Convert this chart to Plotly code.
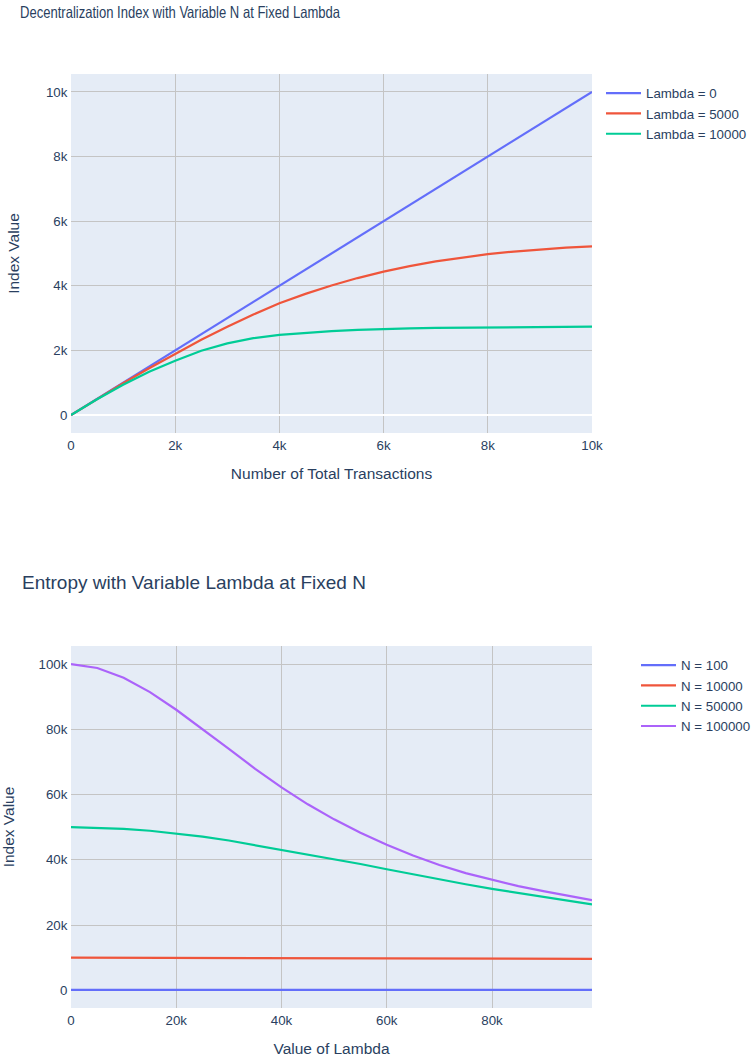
import plotly.graph_objects as go

# ---- Data: top chart (Decentralization Index vs N) ----
n_values = [0, 500, 1000, 1500, 2000, 2500, 3000, 3500, 4000, 4500, 5000,
            5500, 6000, 6500, 7000, 7500, 8000, 8500, 9000, 9500, 10000]
idx_lambda_0 = [0, 500, 1000, 1500, 2000, 2500, 3000, 3500, 4000, 4500, 5000,
                5500, 6000, 6500, 7000, 7500, 8000, 8500, 9000, 9500, 10000]
idx_lambda_5000 = [0, 495, 985, 1450, 1900, 2330, 2730, 3110, 3460, 3750, 4010,
                   4240, 4440, 4610, 4755, 4875, 4980, 5060, 5125, 5180, 5220]
idx_lambda_10000 = [0, 490, 940, 1340, 1680, 1990, 2220, 2380, 2480, 2550, 2600,
                    2635, 2665, 2685, 2698, 2707, 2714, 2720, 2725, 2730, 2735]
top_names = ["Lambda = 0", "Lambda = 5000", "Lambda = 10000"]

# ---- Data: bottom chart (Entropy vs Lambda) ----
lambda_values = [0, 5000, 10000, 15000, 20000, 25000, 30000, 35000, 40000, 45000,
                 50000, 55000, 60000, 65000, 70000, 75000, 80000, 85000, 90000,
                 95000, 99000]
ent_n_100 = [100, 100, 100, 100, 100, 100, 100, 100, 100, 100,
             100, 100, 100, 100, 100, 100, 100, 100, 100, 100, 100]
ent_n_10000 = [10000, 9990, 9970, 9950, 9930, 9910, 9890, 9870, 9850, 9830,
               9810, 9790, 9770, 9750, 9730, 9720, 9700, 9680, 9660, 9640, 9630]
ent_n_50000 = [50000, 49850, 49500, 48900, 48100, 47100, 45900, 44500, 43100, 41600,
               40200, 38700, 37100, 35500, 34000, 32500, 31100, 29800, 28500, 27300, 26300]
ent_n_100000 = [100000, 98800, 95800, 91400, 86000, 80100, 74000, 67900, 62200, 57000,
                52400, 48300, 44600, 41300, 38400, 35900, 33800, 31900, 30300, 28800, 27600]
bottom_names = ["N = 100", "N = 10000", "N = 50000", "N = 100000"]

colors = ["#636efa", "#EF553B", "#00cc96", "#ab63fa"]

W, H = 752, 1061
FONT = "Liberation Sans, Arial, sans-serif"
TXT = "#2a3f5f"


def px_x(p):
    return p / W


def px_y(p):
    return 1 - p / H


fig = go.Figure()

for ys, name, c in zip([idx_lambda_0, idx_lambda_5000, idx_lambda_10000], top_names, colors):
    fig.add_trace(go.Scatter(x=n_values, y=ys, mode="lines", name=name,
                             line=dict(color=c, width=2.2), xaxis="x", yaxis="y",
                             legend="legend"))

for ys, name, c in zip([ent_n_100, ent_n_10000, ent_n_50000, ent_n_100000], bottom_names, colors):
    fig.add_trace(go.Scatter(x=lambda_values, y=ys, mode="lines", name=name,
                             line=dict(color=c, width=2.2), xaxis="x2", yaxis="y2",
                             legend="legend2"))

grid = "#c4c4c4"
axis_common = dict(gridcolor=grid, zerolinecolor="white", zerolinewidth=2.2,
                   automargin=False, linecolor="white", ticks="",
                   tickfont=dict(size=13.3, family=FONT, color=TXT))
xt = dict(font=dict(size=15.5, family=FONT, color=TXT), standoff=16)
yt = dict(font=dict(size=15.5, family=FONT, color=TXT), standoff=22)
leg_font = dict(size=13.3, family=FONT, color=TXT)

fig.update_layout(
    width=W, height=H,
    margin=dict(l=0, r=0, t=0, b=0, autoexpand=False),
    template="plotly",
    font=dict(family=FONT, size=13.3, color=TXT),
    xaxis=dict(domain=[px_x(71), px_x(592)], anchor="y",
               title=dict(text="Number of Total Transactions", **xt), **axis_common),
    yaxis=dict(domain=[px_y(433), px_y(74)], anchor="x",
               title=dict(text="Index Value", **yt), **axis_common),
    xaxis2=dict(domain=[px_x(71), px_x(592)], anchor="y2",
                title=dict(text="Value of Lambda", **xt), **axis_common),
    yaxis2=dict(domain=[px_y(1008), px_y(646)], anchor="x2",
                title=dict(text="Index Value", **yt), **axis_common),
    legend=dict(x=px_x(601), xanchor="left", y=px_y(78), yanchor="top",
                itemwidth=35, font=leg_font),
    legend2=dict(x=px_x(636), xanchor="left", y=px_y(650), yanchor="top",
                 itemwidth=35, font=leg_font),
    annotations=[
        dict(text="Decentralization Index with Variable N at Fixed Lambda",
             x=px_x(20), y=px_y(12), xref="paper", yref="paper",
             xanchor="left", yanchor="middle", showarrow=False,
             font=dict(size=16.5, family=FONT, color=TXT)),
        dict(text="Entropy with Variable Lambda at Fixed N",
             x=px_x(20), y=px_y(582), xref="paper", yref="paper",
             xanchor="left", yanchor="middle", showarrow=False,
             font=dict(size=19, family=FONT, color=TXT)),
    ],
)

post = """
document.body.style.margin='0px';
try {
  var ts = document.querySelectorAll('text.annotation-text');
  ts.forEach(function(t){
    if (t.textContent.indexOf('Decentralization') === 0) {
      t.setAttribute('textLength', '320');
      t.setAttribute('lengthAdjust', 'spacingAndGlyphs');
      var r = t.getBoundingClientRect();
      var dx = 20 - r.left;
      var x0 = parseFloat(t.getAttribute('x') || '0');
      t.setAttribute('x', String(x0 + dx));
    }
  });
} catch (e) {}
"""

fig.write_html("out.html", post_script=post,
               config={"displayModeBar": False})
